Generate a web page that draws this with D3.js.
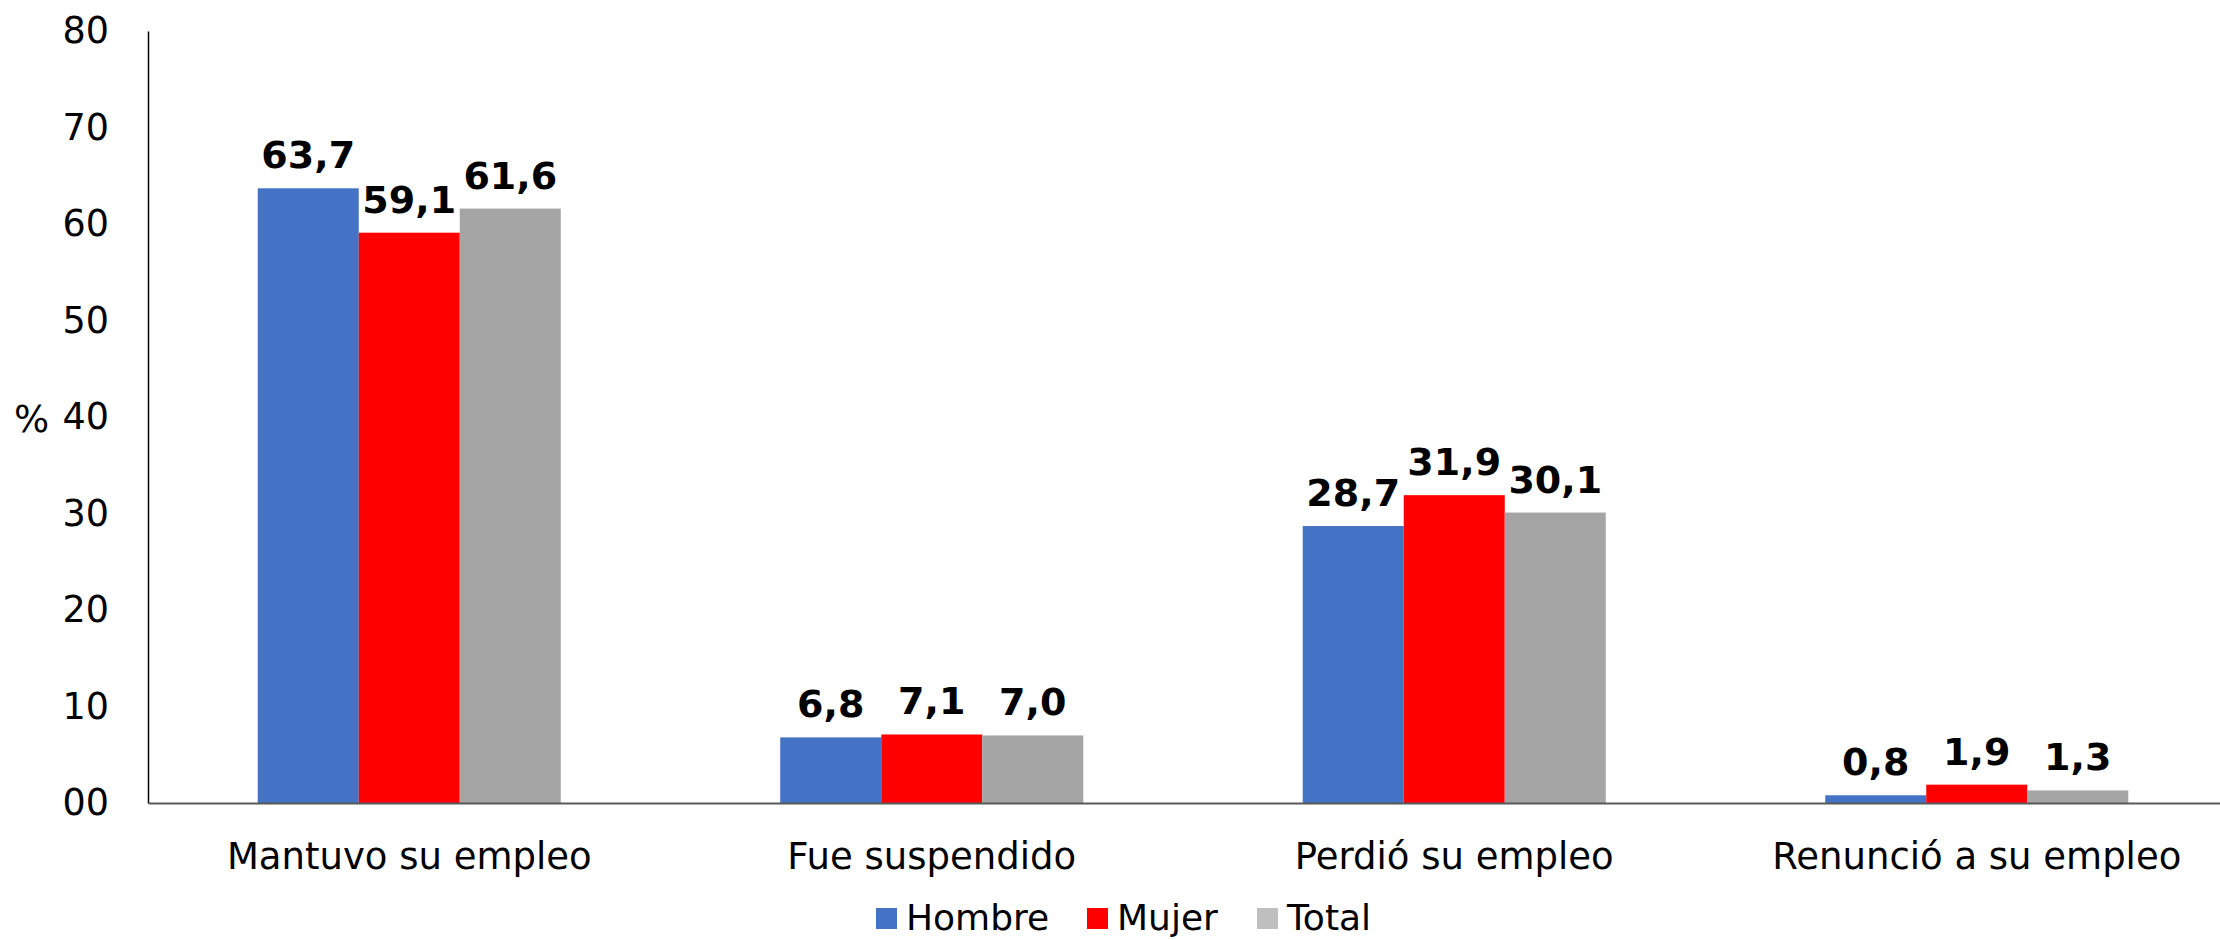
<!DOCTYPE html>
<html>
<head>
<meta charset="utf-8">
<script src="https://cdn.jsdelivr.net/npm/d3@7"></script>
<style>
  body { margin: 0; background: #fff; }
  svg { display: block; font-family: "DejaVu Sans", Verdana, sans-serif; }
</style>
</head>
<body>
<svg id="chart" width="2220" height="940"></svg>
<script>
const categories = ["Mantuvo su empleo", "Fue suspendido", "Perdió su empleo", "Renunció a su empleo"];
const seriesNames = ["Hombre", "Mujer", "Total"];
const hombre = [63.7, 6.8, 28.7, 0.8];
const mujer = [59.1, 7.1, 31.9, 1.9];
const total = [61.6, 7.0, 30.1, 1.3];
const yTicks = [0, 10, 20, 30, 40, 50, 60, 70, 80];
const yTickLabels = ["00", "10", "20", "30", "40", "50", "60", "70", "80"];

const barColors = ["#4472C4", "#FF0000", "#A5A5A5"];
const legendColors = ["#4472C4", "#FF0000", "#BFBFBF"];

const svg = d3.select("#chart");
const plotLeft = 148, plotTop = 31, plotBottom = 803;

const x0 = d3.scaleBand().domain(categories).range([plotLeft, 2238]);
const groupW = x0.bandwidth() * 0.58;
const x1 = d3.scaleBand().domain(seriesNames)
  .range([(x0.bandwidth() - groupW) / 2, (x0.bandwidth() + groupW) / 2]);
const y = d3.scaleLinear().domain([0, 80]).range([plotBottom, plotTop]);

const fmt = v => d3.format(".1f")(v).replace(".", ",");

const rows = categories.map((c, i) => ({
  cat: c,
  vals: [hombre[i], mujer[i], total[i]]
}));

// y axis
const yAxis = svg.append("g")
  .attr("transform", `translate(${plotLeft},0)`)
  .call(d3.axisLeft(y).tickValues(yTicks).tickSize(0).tickPadding(39)
    .tickFormat((d, i) => yTickLabels[i]));
yAxis.select(".domain").attr("stroke", "#000").attr("stroke-width", 1.5);
yAxis.selectAll("text").attr("font-size", 36.5).attr("fill", "#000")
  .attr("font-family", "DejaVu Sans, Verdana, sans-serif");

svg.append("text")
  .attr("x", 14).attr("y", 432)
  .attr("font-size", 37).text("%");

// bars
const groups = svg.selectAll("g.grp")
  .data(rows)
  .enter()
  .append("g")
  .attr("class", "grp")
  .attr("transform", d => `translate(${x0(d.cat)},0)`);

groups.selectAll("rect")
  .data(d => d.vals.map((v, j) => ({ v, s: seriesNames[j], j })))
  .enter()
  .append("rect")
  .attr("x", d => x1(d.s))
  .attr("y", d => y(d.v))
  .attr("width", x1.bandwidth())
  .attr("height", d => y(0) - y(d.v))
  .attr("fill", d => barColors[d.j]);

groups.selectAll("text.lbl")
  .data(d => d.vals.map((v, j) => ({ v, s: seriesNames[j] })))
  .enter()
  .append("text")
  .attr("class", "lbl")
  .attr("x", d => x1(d.s) + x1.bandwidth() / 2)
  .attr("y", d => y(d.v) - 20)
  .attr("text-anchor", "middle")
  .attr("font-size", 38)
  .attr("font-weight", "bold")
  .text(d => fmt(d.v));

// x axis
const xAxis = svg.append("g")
  .attr("transform", `translate(0,${plotBottom})`)
  .call(d3.axisBottom(x0).tickSize(0).tickPadding(40));
xAxis.select(".domain").attr("stroke", "#595959").attr("stroke-width", 2);
xAxis.selectAll("text").attr("font-size", 37).attr("fill", "#000")
  .attr("font-family", "DejaVu Sans, Verdana, sans-serif");

// legend
const legendX = [876, 1087, 1257];
const legend = svg.append("g");
seriesNames.forEach((s, i) => {
  legend.append("rect")
    .attr("x", legendX[i]).attr("y", 908)
    .attr("width", 21).attr("height", 21)
    .attr("fill", legendColors[i]);
  legend.append("text")
    .attr("x", legendX[i] + 30).attr("y", 930)
    .attr("font-size", 36).text(s);
});
</script>
</body>
</html>
